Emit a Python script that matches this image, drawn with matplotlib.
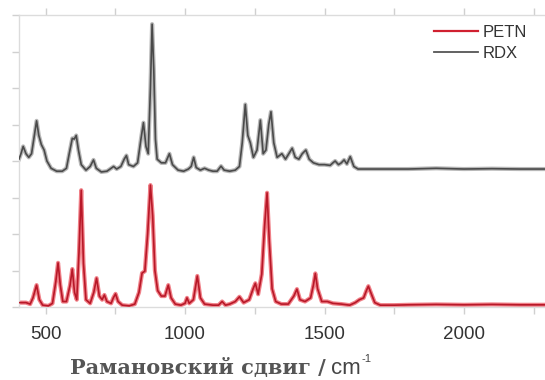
import matplotlib
matplotlib.use("Agg")
import matplotlib.pyplot as plt
from matplotlib.lines import Line2D

# Raman shift (cm^-1) and intensity (a.u., offset)
rdx_x = [405, 412, 420, 430, 440, 450, 460, 468, 476, 485, 495, 505, 520, 540, 560,
         575, 585, 596, 603, 610, 618, 628, 645, 660, 672, 682, 700, 720, 735, 744,
         755, 770, 782, 790, 798, 815, 830, 842, 851, 860, 868, 876, 882, 888, 894,
         900, 915, 930, 944, 955, 975, 995, 1012, 1022, 1031, 1040, 1055, 1070, 1085,
         1100, 1115, 1129, 1140, 1160, 1180, 1195, 1205, 1216, 1225, 1234, 1245, 1258,
         1270, 1280, 1290, 1300, 1308, 1318, 1330, 1347, 1360, 1372, 1384, 1395, 1408,
         1420, 1433, 1445, 1460, 1480, 1500, 1520, 1530, 1538, 1550, 1560, 1570, 1580,
         1592, 1605, 1620, 1650, 1700, 1800, 1900, 2000, 2100, 2200, 2290]
rdx_y = [4.05, 4.2, 4.4, 4.2, 4.1, 4.2, 4.7, 5.1, 4.7, 4.45, 4.3, 4.0, 3.8, 3.72, 3.72,
         3.8, 4.2, 4.62, 4.6, 4.7, 4.3, 3.9, 3.75, 3.85, 4.03, 3.8, 3.7, 3.72, 3.8, 3.85,
         3.78, 3.85, 4.05, 4.15, 3.9, 3.85, 3.95, 4.6, 5.05, 4.4, 4.2, 6.0, 7.75, 6.5, 4.6,
         4.05, 3.95, 3.95, 4.2, 3.9, 3.75, 3.72, 3.78, 3.85, 4.1, 3.82, 3.75, 3.8, 3.75,
         3.72, 3.72, 3.86, 3.75, 3.72, 3.75, 3.85, 4.5, 5.55, 4.7, 4.5, 4.1, 4.3,
         5.12, 4.2, 4.3, 5.0, 5.35, 4.5, 4.1, 4.2, 4.05, 4.2, 4.35, 4.1, 4.05,
         4.2, 4.3, 4.05, 3.95, 3.9, 3.9, 3.88, 3.95, 4.0, 3.9, 3.95, 4.03, 3.92,
         4.12, 3.85, 3.78, 3.78, 3.78, 3.78, 3.8, 3.78, 3.79, 3.78, 3.78]

petn_x = [405, 430, 445, 455, 468, 478, 490, 510, 525, 537, 545, 553, 562, 575, 588,
          596, 604, 612, 620, 628, 636, 645, 660, 673, 683, 693, 703, 711, 720, 735,
          743, 751, 760, 775, 800, 820, 835, 846, 856, 866, 876, 884, 892, 902, 915,
          928, 940, 950, 965, 985, 1000, 1007, 1015, 1030, 1044, 1055, 1070, 1100, 1120,
          1133, 1145, 1160, 1180, 1195, 1210, 1230, 1244, 1252, 1262, 1275, 1285, 1294,
          1302, 1312, 1325, 1345, 1370, 1390, 1401, 1412, 1430, 1450, 1460, 1467, 1475,
          1490, 1510, 1530, 1560, 1590, 1610, 1625, 1640, 1650, 1657, 1668, 1680, 1700,
          1750, 1800, 1900, 2000, 2100, 2200, 2290]
petn_y = [0.12, 0.12, 0.08, 0.25, 0.6, 0.2, 0.05, 0.03, 0.1, 0.7, 1.21, 0.6, 0.15, 0.15, 0.6,
          1.04, 0.4, 0.2, 1.5, 3.2, 1.2, 0.2, 0.1, 0.4, 0.79, 0.3, 0.2, 0.33, 0.15, 0.1,
          0.25, 0.36, 0.15, 0.05, 0.03, 0.08, 0.4, 0.93, 0.98, 2.0, 3.34, 2.5, 1.0, 0.45, 0.3,
          0.3, 0.6, 0.25, 0.08, 0.05, 0.1, 0.25, 0.1, 0.2, 0.85, 0.25, 0.08, 0.05, 0.05,
          0.15, 0.05, 0.08, 0.15, 0.28, 0.12, 0.2, 0.5, 0.65, 0.35, 0.9, 2.2, 3.13,
          1.8, 0.5, 0.15, 0.08, 0.08, 0.3, 0.49, 0.2, 0.15, 0.25, 0.6, 0.92, 0.5,
          0.15, 0.15, 0.1, 0.08, 0.05, 0.12, 0.2, 0.25, 0.45, 0.57, 0.35, 0.12, 0.05,
          0.05, 0.06, 0.07, 0.06, 0.07, 0.06, 0.06]

x_ticks = [500, 750, 1000, 1250, 1500, 1750, 2000, 2250]
x_ticklabels = ["500", "", "1000", "", "1500", "", "2000", ""]
y_ticks = [0, 1, 2, 3, 4, 5, 6, 7, 8]

fig = plt.figure(figsize=(5.45, 3.8), dpi=100)
ax = fig.add_axes([19/545, 1 - 307/380, 1 - 19/545, (307 - 15)/380])

# soft halo + core to mimic the blurred lines
ax.plot(rdx_x, rdx_y, color="#b8b8b8", lw=3.0, solid_joinstyle="round", zorder=2)
ax.plot(rdx_x, rdx_y, color="#4a4a4a", lw=1.2, solid_joinstyle="round", zorder=3)
ax.plot(petn_x, petn_y, color="#f08088", lw=3.0, solid_joinstyle="round", zorder=2)
ax.plot(petn_x, petn_y, color="#b81828", lw=1.2, solid_joinstyle="round", zorder=3)

ax.set_xlim(405, 2290)
ax.set_ylim(0, 8)
ax.set_xticks(x_ticks)
ax.set_xticklabels(x_ticklabels)
ax.set_yticks(y_ticks)
ax.set_yticklabels([])

for s in ["top", "left", "bottom"]:
    ax.spines[s].set_color("#dcdcdc")
    ax.spines[s].set_linewidth(1.0)
ax.spines["right"].set_visible(False)
ax.tick_params(axis="both", direction="out", length=5, color="#d0d0d0", width=1.0)
ax.tick_params(axis="x", top=True, labelsize=13.5, labelcolor="#333333", pad=9)
for lab in ax.get_xticklabels():
    lab.set_family("Liberation Sans")

# x-axis label: serif Cyrillic part plus sans "cm^-1" with a small superscript
W, H = 545.0, 380.0
lbl_y = 1 - 374/H
t1 = fig.text(70/W, lbl_y, "Рамановский сдвиг /", fontsize=15, family="DejaVu Serif",
              fontweight="bold", color="#555555", ha="left", va="baseline")
fig.canvas.draw()
r = fig.canvas.get_renderer()
bb = t1.get_window_extent(renderer=r)
x2 = bb.x1 / W + 5/W
t2 = fig.text(x2, lbl_y, "cm", fontsize=16, family="Liberation Sans",
              color="#444444", ha="left", va="baseline")
bb2 = t2.get_window_extent(renderer=r)
fig.text(bb2.x1 / W + 1/W, lbl_y + 12/H, "-1", fontsize=8, family="Liberation Sans",
         color="#444444", ha="left", va="baseline")

handles = [Line2D([], [], color="#d02030", lw=1.6), Line2D([], [], color="#555555", lw=1.3)]
leg = ax.legend(handles, ["PETN", "RDX"], loc="upper right", frameon=False,
                prop={"family": "Liberation Sans", "size": 12}, handlelength=2.6,
                handletextpad=0.3, labelspacing=0.35, borderaxespad=0.2,
                bbox_to_anchor=(0.985, 1.0))
for t in leg.get_texts():
    t.set_color("#333333")

fig.savefig("out.png", dpi=100)
